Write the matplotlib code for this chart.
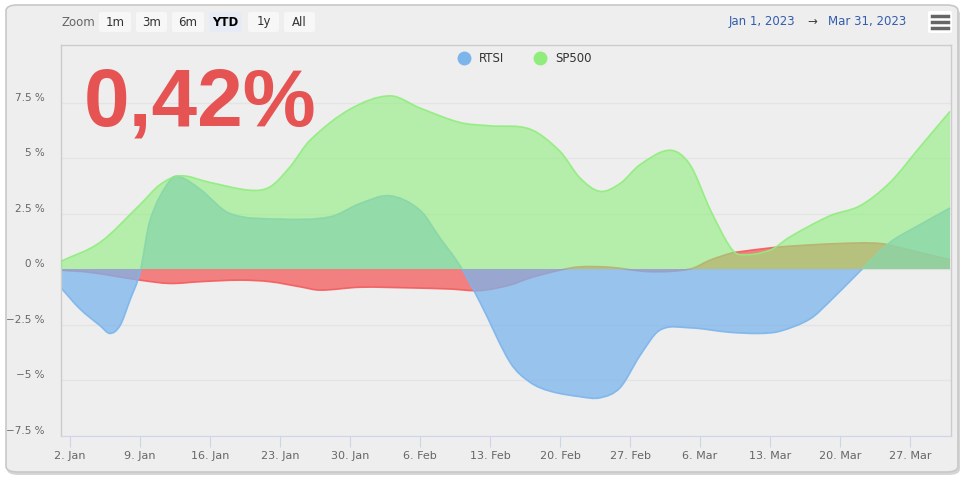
import numpy as np
import matplotlib
matplotlib.use('Agg')
import matplotlib.pyplot as plt
import matplotlib.dates as mdates
from matplotlib.path import Path
from matplotlib.patches import PathPatch, FancyBboxPatch
from matplotlib.lines import Line2D
from matplotlib.transforms import ScaledTranslation
import datetime as dt

# ---- data (days counted from 1 Jan 2023, values in %) ----
sp500_days = [0, 4, 8, 10, 12, 15, 19, 21, 23, 25, 29, 33, 36, 40, 43, 47, 50, 52, 54, 56, 58, 61, 63, 65, 67, 68, 71, 73, 77, 80, 83, 86, 89]
sp500_vals = [0.33, 1.2, 2.9, 3.8, 4.2, 3.9, 3.55, 3.7, 4.6, 5.8, 7.2, 7.8, 7.25, 6.6, 6.45, 6.3, 5.3, 4.1, 3.5, 3.85, 4.7, 5.35, 4.7, 2.7, 1.0, 0.65, 0.85, 1.45, 2.4, 2.85, 3.9, 5.5, 7.1]

rtsi_days = [0, 2, 4, 5, 6, 7, 8, 9, 11, 12, 14, 17, 22, 27, 30, 33, 36, 38, 40, 42, 45, 47, 49, 52, 54, 56, 58, 60, 63, 67, 70, 72, 75, 77, 80, 83, 86, 89]
rtsi_vals = [-0.8, -1.8, -2.55, -2.9, -2.55, -1.4, -0.15, 2.2, 4.0, 4.15, 3.6, 2.5, 2.25, 2.35, 2.95, 3.3, 2.65, 1.4, 0.15, -1.5, -4.2, -5.1, -5.5, -5.75, -5.8, -5.35, -3.9, -2.75, -2.65, -2.85, -2.9, -2.8, -2.25, -1.45, -0.1, 1.2, 2.0, 2.75]

port_days = [0, 3, 8, 11, 14, 18, 21, 24, 26, 30, 35, 39, 42, 45, 47, 50, 52, 55, 59, 63, 65, 67, 68, 71, 73, 78, 82, 85, 89]
port_vals = [-0.05, -0.15, -0.5, -0.65, -0.57, -0.5, -0.57, -0.8, -0.95, -0.82, -0.85, -0.9, -0.97, -0.72, -0.4, -0.05, 0.1, 0.08, -0.12, 0.0, 0.4, 0.7, 0.78, 0.95, 1.03, 1.15, 1.15, 0.85, 0.42]

x_ticks = ['2023-01-02', '2023-01-09', '2023-01-16', '2023-01-23', '2023-01-30', '2023-02-06', '2023-02-13',
           '2023-02-20', '2023-02-27', '2023-03-06', '2023-03-13', '2023-03-20', '2023-03-27']
y_ticks = [-7.5, -5, -2.5, 0, 2.5, 5, 7.5]
big_value = '0,42%'

BG = '#eeeeee'
W, H = 964, 479
start = mdates.date2num(dt.datetime(2023, 1, 1))


def fx(px):
    return px / W


def fy(py):
    return 1 - py / H


def spline_paths(xs, ys, base=0.0):
    # cubic hermite through points, drawn as bezier curves
    xs = np.asarray(xs, float)
    ys = np.asarray(ys, float)
    n = len(xs)
    m = np.zeros(n)
    for i in range(n):
        a = max(i - 1, 0)
        b = min(i + 1, n - 1)
        m[i] = (ys[b] - ys[a]) / (xs[b] - xs[a])
    verts = [(xs[0], ys[0])]
    codes = [Path.MOVETO]
    for i in range(n - 1):
        d = (xs[i + 1] - xs[i]) / 3
        verts += [(xs[i] + d, ys[i] + m[i] * d), (xs[i + 1] - d, ys[i + 1] - m[i + 1] * d), (xs[i + 1], ys[i + 1])]
        codes += [Path.CURVE4] * 3
    line = Path(verts, codes)
    fverts = [(xs[0], base)] + verts + [(xs[-1], base), (xs[0], base)]
    fcodes = [Path.MOVETO, Path.LINETO] + codes[1:] + [Path.LINETO, Path.CLOSEPOLY]
    return Path(fverts, fcodes), line


fig = plt.figure(figsize=(W / 100, H / 100), dpi=100)
fig.patch.set_facecolor('white')

# outer rounded frame
frame = FancyBboxPatch((fx(6), fy(472)), fx(952), 467 / H, boxstyle='round,pad=0,rounding_size=0.012',
                       transform=fig.transFigure, facecolor=BG, edgecolor='#c8c8c8', lw=1.2, zorder=-2)
shadow = FancyBboxPatch((fx(7), fy(475)), fx(953), 467 / H, boxstyle='round,pad=0,rounding_size=0.012',
                        transform=fig.transFigure, facecolor='#d6d6d6', edgecolor='none', zorder=-3)
fig.patches.extend([shadow, frame])

ax = fig.add_axes([fx(61), fy(436), fx(890), (436 - 45) / H])
ax.set_zorder(5)
ax.set_facecolor(BG)

series = [
    (port_days, port_vals, '#f45b5b', 0.75, 1),
    (rtsi_days, rtsi_vals, '#7cb5ec', 0.75, 2),
    (sp500_days, sp500_vals, '#90ed7d', 0.6, 3),
]
for days, vals, col, alpha, z in series:
    xd = [start + d for d in days]
    fill, line = spline_paths(xd, vals)
    ax.add_patch(PathPatch(fill, facecolor=col, alpha=alpha, edgecolor='none', zorder=z))
    ax.add_patch(PathPatch(line, facecolor='none', edgecolor=col, lw=1.2, alpha=0.9, zorder=z + 0.1))

ax.set_xlim(start + 0.1, start + 89.1)
ax.set_ylim(-7.52, 10.09)

ax.set_yticks(y_ticks)
ax.set_yticklabels([('%g %%' % v).replace('-', '\u2212') for v in y_ticks], fontsize=7.5, color='#666666')
ax.tick_params(axis='y', length=0, pad=12)
for lab in ax.get_yticklabels():
    lab.set_transform(lab.get_transform() + ScaledTranslation(0, 6 / 100, fig.dpi_scale_trans))
ax.grid(axis='y', color='#e4e4e4', lw=1)
ax.set_axisbelow(True)

xt = [mdates.date2num(dt.datetime.strptime(s, '%Y-%m-%d')) for s in x_ticks]
ax.set_xticks(xt)
ax.set_xticklabels([dt.datetime.strptime(s, '%Y-%m-%d').strftime('%-d. %b') for s in x_ticks], fontsize=8, color='#666666')
ax.tick_params(axis='x', length=8, color='#ccd6eb', pad=3)

for s in ['left', 'top', 'right']:
    ax.spines[s].set_color('#cccccc')
    ax.spines[s].set_linewidth(1)
ax.spines['bottom'].set_color('#ccd6eb')

# big value
fig.text(fx(84), fy(104), big_value, fontsize=59, fontweight='bold', color='#e65353',
         family=['Liberation Sans', 'DejaVu Sans'], ha='left', va='center', zorder=10)

# legend
handles = [Line2D([], [], ls='none', marker='o', ms=9, color='#7cb5ec', label='RTSI'),
           Line2D([], [], ls='none', marker='o', ms=9, color='#90ed7d', label='SP500')]
leg = fig.legend(handles=handles, loc='center', bbox_to_anchor=(fx(522), fy(59)), ncol=2, frameon=False,
                 fontsize=8.5, handletextpad=0.3, columnspacing=2.0, labelcolor='#333333')
leg.set_zorder(10)

# range selector buttons
fig.text(fx(62), fy(22), 'Zoom', fontsize=8.5, color='#666666', va='center')
buttons = [('1m', 99, 131), ('3m', 136, 167), ('6m', 172, 204), ('YTD', 209, 242), ('1y', 248, 279), ('All', 284, 315)]
for lab, x0, x1 in buttons:
    sel = lab == 'YTD'
    fig.patches.append(FancyBboxPatch((fx(x0), fy(32)), fx(x1 - x0), 20 / H, boxstyle='round,pad=0,rounding_size=0.003',
                                      transform=fig.transFigure, facecolor='#e6ebf5' if sel else '#f7f7f7',
                                      edgecolor='none', zorder=1))
    fig.text(fx((x0 + x1) / 2), fy(22), lab, fontsize=8.5, color='#000000' if sel else '#333333',
             fontweight='bold' if sel else 'normal', ha='center', va='center')

# date range inputs
fig.text(fx(762), fy(21), 'Jan 1, 2023', fontsize=8.5, color='#335cad', ha='center', va='center')
fig.text(fx(812), fy(21), '\u2192', fontsize=8.5, color='#444444', ha='center', va='center')
fig.text(fx(867), fy(21), 'Mar 31, 2023', fontsize=8.5, color='#335cad', ha='center', va='center')

# menu button
fig.patches.append(FancyBboxPatch((fx(928), fy(33)), fx(24), 22 / H, boxstyle='round,pad=0,rounding_size=0.003',
                                  transform=fig.transFigure, facecolor='#ffffff', edgecolor='none', zorder=1))
for yy in [16, 22, 28]:
    fig.add_artist(Line2D([fx(932), fx(948)], [fy(yy), fy(yy)], color='#666666', lw=2.5, transform=fig.transFigure))

fig.savefig('out.png', dpi=100, facecolor='white')
